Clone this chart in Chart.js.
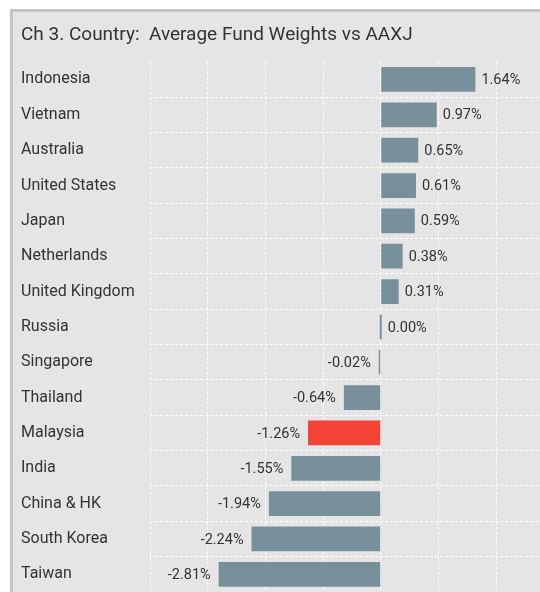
<!DOCTYPE html>
<html>
<head>
<meta charset="utf-8">
<script src="https://cdn.jsdelivr.net/npm/chart.js@4.4.1/dist/chart.umd.min.js"></script>
<style>
html,body{margin:0;padding:0;background:#ffffff;}
#wrap{position:absolute;left:0;top:0;width:540px;height:592px;}
</style>
</head>
<body>
<div id="wrap"><canvas id="c" width="540" height="592"></canvas></div>
<script>
const titleText = "Ch 3. Country:  Average Fund Weights vs AAXJ";
const countries = ["Indonesia","Vietnam","Australia","United States","Japan","Netherlands","United Kingdom","Russia","Singapore","Thailand","Malaysia","India","China & HK","South Korea","Taiwan"];
const weightDiff = [1.64,0.97,0.65,0.61,0.59,0.38,0.31,0.00,-0.02,-0.64,-1.26,-1.55,-1.94,-2.24,-2.81];
const highlighted = ["Malaysia"];

const FONT = "Roboto, 'Noto Sans', sans-serif";
const TEXT = "#333333";
const BAR = "#78909c";
const HIGHLIGHT = "#f44336";

const panelPlugin = {
  id: 'panel',
  beforeDraw(chart) {
    const ctx = chart.ctx;
    ctx.save();
    ctx.fillStyle = '#ffffff';
    ctx.fillRect(0, 0, chart.width, chart.height);
    ctx.fillStyle = '#c4c4c4';
    ctx.fillRect(10, 9, chart.width - 10, chart.height - 9);
    ctx.fillStyle = '#e5e5e5';
    ctx.fillRect(13, 12, chart.width - 13, chart.height - 12);
    ctx.restore();
  }
};

const labelPlugin = {
  id: 'valueLabels',
  afterDatasetsDraw(chart) {
    const ctx = chart.ctx;
    const meta = chart.getDatasetMeta(0);
    ctx.save();
    ctx.font = "14.5px " + FONT;
    ctx.fillStyle = TEXT;
    ctx.textBaseline = 'middle';
    meta.data.forEach((el, i) => {
      const v = chart.data.datasets[0].data[i];
      const txt = v.toFixed(2) + '%';
      if (v >= 0) {
        ctx.textAlign = 'left';
        ctx.fillText(txt, Math.max(el.x, el.base) + 6, el.y + 1);
      } else {
        ctx.textAlign = 'right';
        ctx.fillText(txt, Math.min(el.x, el.base) - 8, el.y + 1);
      }
    });
    ctx.restore();
  }
};

new Chart(document.getElementById('c'), {
  type: 'bar',
  data: {
    labels: countries,
    datasets: [{
      data: weightDiff,
      backgroundColor: countries.map(c => highlighted.includes(c) ? HIGHLIGHT : BAR),
      barPercentage: 0.7,
      categoryPercentage: 1.0,
      minBarLength: 2
    }]
  },
  options: {
    indexAxis: 'y',
    responsive: false,
    animation: false,
    devicePixelRatio: 1,
    layout: { padding: { left: 21, right: 0, top: 12, bottom: -3 } },
    plugins: {
      legend: { display: false },
      tooltip: { enabled: false },
      title: {
        display: true,
        text: titleText,
        align: 'start',
        color: TEXT,
        font: { family: FONT, size: 19, weight: 'normal' },
        padding: { top: 12, bottom: 15 }
      }
    },
    scales: {
      x: {
        min: -4,
        max: 2.76,
        afterFit(scale) { scale.height = 0; scale.paddingLeft = 0; scale.paddingRight = 0; },
        ticks: { display: false, stepSize: 1 },
        grid: {
          color: '#ffffff',
          lineWidth: 1,
          drawTicks: false
        },
        border: { display: false, dash: [3, 2] }
      },
      y: {
        afterFit(scale) { scale.width = 129; scale.paddingTop = 0; scale.paddingBottom = 0; },
        ticks: {
          crossAlign: 'far',
          color: TEXT,
          font: { family: FONT, size: 16 },
          padding: 0
        },
        border: { display: false, dash: [3, 2] },
        grid: {
          color: (ctx) => ctx.index === 0 ? 'rgba(0,0,0,0)' : '#ffffff',
          lineWidth: 1,
          drawTicks: false
        }
      }
    }
  },
  plugins: [panelPlugin, labelPlugin]
});
</script>
</body>
</html>
